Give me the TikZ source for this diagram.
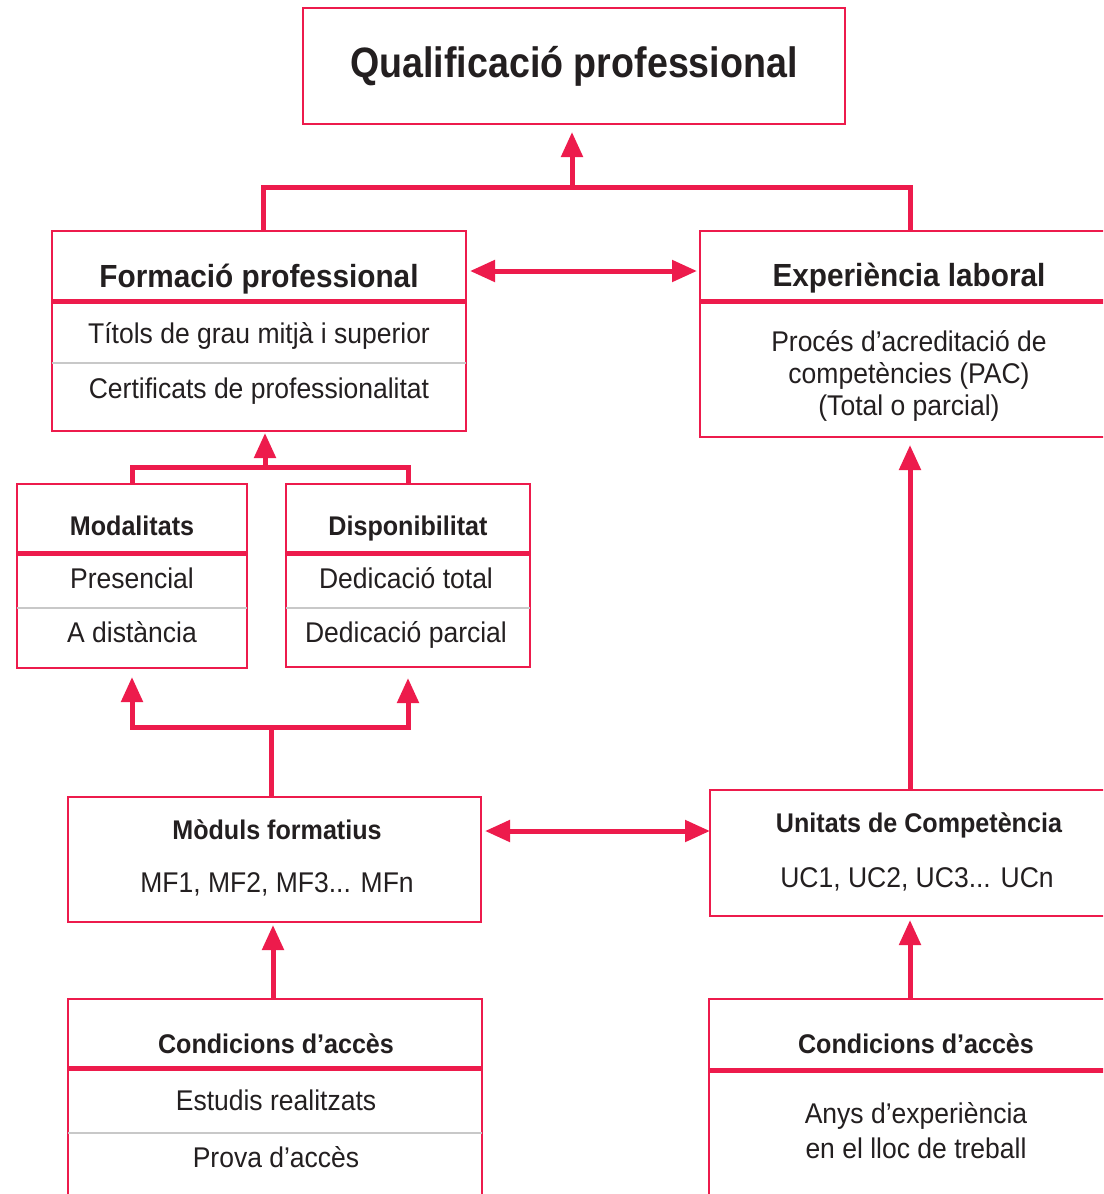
\documentclass[tikz,border=0pt]{standalone}
\usepackage{fontspec}
\setmainfont{Liberation Sans}[FakeStretch=0.93]
\newfontfamily\qualfont{Liberation Sans}[FakeStretch=0.885]
\usetikzlibrary{arrows.meta}
\definecolor{crim}{RGB}{237,27,76}
\definecolor{ink}{RGB}{35,31,32}
\definecolor{sepgray}{RGB}{200,200,200}
\tikzset{
  box/.style={draw=crim, line width=2.2pt, inner sep=0pt, outer sep=0pt},
  conn/.style={draw=crim, line width=5pt},
  bigtri/.tip={Triangle[length=25pt,width=21pt]},
  arr/.style={conn, -bigtri},
  dbl/.style={conn, bigtri-bigtri},
  reddiv/.style={draw=crim, line width=5pt},
  graydiv/.style={draw=sepgray, line width=2.5pt},
  lbl/.style={text=ink, inner sep=0pt, anchor=base},
  ttlbig/.style={lbl, font=\bfseries\fontsize{32}{36}\selectfont},
  ttl/.style={lbl, font=\bfseries\fontsize{27}{32}\selectfont},
  item/.style={lbl, font=\fontsize{28.5}{32}\selectfont},
  qualf/.style={lbl, font=\qualfont\bfseries\fontsize{42.5}{48}\selectfont},
}
\begin{document}
\begin{tikzpicture}[x=1pt,y=-1pt]
\useasboundingbox (0,0) rectangle (1103,1194);
\clip (0,0) rectangle (1103,1194);
\fill[white] (0,0) rectangle (1103,1194);

% boxes
\node[box, minimum width=542, minimum height=116] (qual) at (574,66) {};
\node[box, minimum width=414, minimum height=200] (form) at (259,331) {};
\node[box, minimum width=420, minimum height=206] (exp) at (910,334) {};
\node[box, minimum width=230, minimum height=184] (modal) at (132,576) {};
\node[box, minimum width=244, minimum height=183] (disp) at (408,575.5) {};
\node[box, minimum width=413, minimum height=125] (mod) at (274.5,859.5) {};
\node[box, minimum width=400, minimum height=126] (uni) at (910,853) {};
\node[box, minimum width=414, minimum height=211] (cond1) at (275,1104.5) {};
\node[box, minimum width=402, minimum height=211] (cond2) at (910,1104.5) {};

% dividers
\draw[reddiv] (form.west |- 0,301) -- (form.east |- 0,301);
\draw[graydiv] (form.west |- 0,363) -- (form.east |- 0,363);
\draw[reddiv] (exp.west |- 0,301) -- (exp.east |- 0,301);
\draw[reddiv] (modal.west |- 0,553) -- (modal.east |- 0,553);
\draw[graydiv] (modal.west |- 0,608) -- (modal.east |- 0,608);
\draw[reddiv] (disp.west |- 0,553) -- (disp.east |- 0,553);
\draw[graydiv] (disp.west |- 0,608) -- (disp.east |- 0,608);
\draw[reddiv] (cond1.west |- 0,1068) -- (cond1.east |- 0,1068);
\draw[graydiv] (cond1.west |- 0,1133) -- (cond1.east |- 0,1133);
\draw[reddiv] (cond2.west |- 0,1070) -- (cond2.east |- 0,1070);

% texts
\node[qualf] (qualT) at (574,77) {Qualificació professional};
\node[ttlbig] (formT) at (259,287) {Formació professional};
\node[item] (formA) at (259,343) {Títols de grau mitjà i superior};
\node[item] (formB) at (259,398) {Certificats de professionalitat};
\node[ttlbig] (expT) at (909,286) {Experiència laboral};
\node[item, anchor=center, align=center] (expA) at (909,376) {Procés d’acreditació de\\competències (PAC)\\(Total o parcial)};
\node[ttl] (modalT) at (132,535) {Modalitats};
\node[item] (modalA) at (132,588) {Presencial};
\node[item] (modalB) at (132,642) {A distància};
\node[ttl] (dispT) at (408,535) {Disponibilitat};
\node[item] (dispA) at (406,588) {Dedicació total};
\node[item] (dispB) at (406,642) {Dedicació parcial};
\node[ttl] (modT) at (277,839) {Mòduls formatius};
\node[item] (modA) at (277,892) {MF1, MF2, MF3... MFn};
\node[ttl] (uniT) at (919,832) {Unitats de Competència};
\node[item] (uniA) at (917,887) {UC1, UC2, UC3... UCn};
\node[ttl] (cond1T) at (276,1053) {Condicions d’accès};
\node[item] (cond1A) at (276,1110) {Estudis realitzats};
\node[item] (cond1B) at (276,1167) {Prova d’accès};
\node[ttl] (cond2T) at (916,1053) {Condicions d’accès};
\node[item, anchor=center, align=center, font=\fontsize{28.5}{35}\selectfont] (cond2A) at (916,1131) {Anys d’experiència\\en el lloc de treball};

% connectors
\coordinate (jq) at (572,187);
\draw[conn] ([xshift=4pt]form.north) |- (jq) -| (exp.north);
\draw[arr, shorten >=8pt] (jq) -- (jq |- qual.south);
\draw[dbl, shorten <=4pt, shorten >=3pt] (form.east |- 0,271) -- (exp.west |- 0,271);

\coordinate (j2) at (265,467);
\draw[conn] (modal.north) |- (j2) -| (disp.north);
\draw[arr, shorten >=2pt] (j2) -- (j2 |- form.south);

\coordinate (j3) at (271,727);
\draw[conn] (j3 |- mod.north) -- (j3);
\draw[dbl, shorten <=9pt, shorten >=11pt] (modal.south) |- (j3) -| (disp.south);

\draw[dbl, shorten <=4pt] (mod.east |- 0,831) -- (uni.west |- 0,831);

\draw[arr, shorten >=3pt] ([xshift=-2pt]cond1.north) -- ([xshift=-2pt]cond1.north |- mod.south);
\draw[arr, shorten >=4pt] (cond2.north) -- (cond2.north |- uni.south);
\draw[arr, shorten >=8pt] (uni.north) -- (uni.north |- exp.south);
\end{tikzpicture}
\end{document}
